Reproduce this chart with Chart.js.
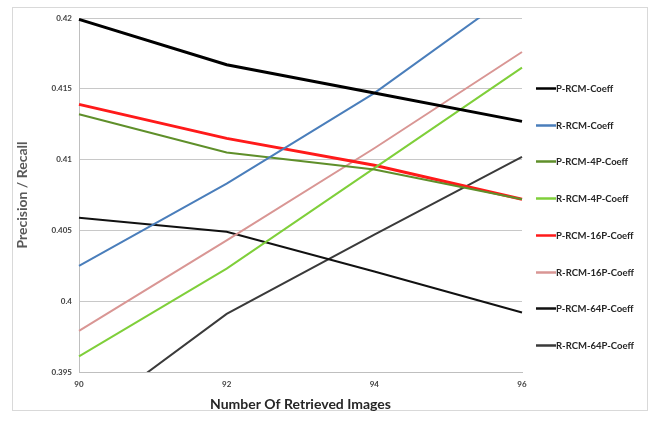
<!DOCTYPE html>
<html>
<head>
<meta charset="utf-8">
<script src="https://cdn.jsdelivr.net/npm/chart.js@4/dist/chart.umd.min.js"></script>
<style>
  html, body { margin: 0; padding: 0; background: #fff; }
  #wrap { width: 654px; height: 421px; position: relative; }
</style>
</head>
<body>
<div id="wrap"><canvas id="c" width="654" height="421"></canvas></div>
<script>
// Retrieved-image counts along the x axis
const retrieved = ['90', '92', '94', '96'];

// Precision / recall for each RCM variant
const pRcmCoeff   = [0.4199, 0.4167, 0.4147, 0.4127];
const rRcmCoeff   = [0.4025, 0.4083, 0.4147, 0.4222];
const pRcm4P      = [0.4132, 0.4105, 0.4093, 0.4072];
const rRcm4P      = [0.3961, 0.4023, 0.4094, 0.4165];
const pRcm16P     = [0.4139, 0.4115, 0.4096, 0.4072];
const rRcm16P     = [0.3979, 0.4043, 0.4108, 0.4176];
const pRcm64P     = [0.4059, 0.4049, 0.4021, 0.3992];
const rRcm64P     = [0.3914, 0.3991, 0.4047, 0.4102];

const seriesNames = ['P-RCM-Coeff', 'R-RCM-Coeff', 'P-RCM-4P-Coeff', 'R-RCM-4P-Coeff',
                     'P-RCM-16P-Coeff', 'R-RCM-16P-Coeff', 'P-RCM-64P-Coeff', 'R-RCM-64P-Coeff'];
const seriesValues = [pRcmCoeff, rRcmCoeff, pRcm4P, rRcm4P, pRcm16P, rRcm16P, pRcm64P, rRcm64P];
const seriesColors = ['#000000', '#4a7ebb', '#5f8f2a', '#7fcf3a', '#ff1a1a', '#d99694', '#111111', '#3a3a3a'];
const seriesWidths = [3, 2, 2, 2, 3, 2, 2, 2];

const FONT = 'Lato, "Open Sans", "Liberation Sans", sans-serif';

// Light frame around the whole chart
const framePlugin = {
  id: 'frame',
  beforeDraw(chart) {
    const ctx = chart.ctx;
    ctx.save();
    ctx.fillStyle = '#ffffff';
    ctx.fillRect(0, 0, chart.width, chart.height);
    ctx.strokeStyle = '#d9d9d9';
    ctx.lineWidth = 1;
    ctx.strokeRect(12.5, 7.5, 635, 403);
    ctx.restore();
  }
};

// Series key on the right, one row per dataset
const keyPlugin = {
  id: 'seriesKey',
  afterDraw(chart) {
    const ctx = chart.ctx;
    const left = chart.chartArea.right + 14;
    const top = 88, step = 36.7;
    ctx.save();
    ctx.font = 'bold 9.5px ' + FONT;
    ctx.textBaseline = 'middle';
    chart.data.datasets.forEach((ds, i) => {
      const y = Math.round(top + i * step) + 0.5;
      ctx.strokeStyle = ds.borderColor;
      ctx.lineWidth = 2.5;
      ctx.beginPath();
      ctx.moveTo(left, y);
      ctx.lineTo(left + 20, y);
      ctx.stroke();
      ctx.fillStyle = '#262626';
      ctx.fillText(ds.label, left + 20, y);
    });
    ctx.restore();
  }
};

new Chart(document.getElementById('c'), {
  type: 'line',
  data: {
    labels: retrieved,
    datasets: seriesNames.map((name, i) => ({
      label: name,
      data: seriesValues[i],
      borderColor: seriesColors[i],
      backgroundColor: seriesColors[i],
      borderWidth: seriesWidths[i],
      pointRadius: 0,
      tension: 0,
      fill: false
    }))
  },
  options: {
    responsive: false,
    animation: false,
    layout: { padding: { left: 14, right: 132, top: 18, bottom: 8 } },
    plugins: {
      legend: { display: false },
      tooltip: { enabled: false }
    },
    scales: {
      x: {
        type: 'category',
        offset: false,
        grid: { display: false, drawTicks: false },
        border: { display: true, color: '#bfbfbf', width: 1 },
        ticks: {
          color: '#404040',
          font: { family: FONT, size: 8, weight: 'bold' },
          padding: 8,
          maxRotation: 0
        },
        title: {
          display: true,
          text: 'Number Of Retrieved Images',
          color: '#262626',
          font: { family: FONT, size: 14, weight: 'bold' },
          padding: { top: 3, bottom: 0 }
        },
        afterFit(scale) { scale.height = 41; }
      },
      y: {
        min: 0.395,
        max: 0.42,
        grid: { color: '#c8c8c8', lineWidth: 1, drawTicks: false },
        border: { display: true, color: '#bfbfbf', width: 1 },
        ticks: {
          stepSize: 0.005,
          color: '#404040',
          font: { family: FONT, size: 8, weight: 'bold' },
          padding: 7,
          callback: v => String(parseFloat(v.toFixed(3)))
        },
        title: {
          display: true,
          text: 'Precision / Recall',
          color: '#595959',
          font: { family: FONT, size: 14, weight: 'bold' },
          padding: { top: 0, bottom: 6 }
        },
        afterFit(scale) { scale.width = 65; }
      }
    }
  },
  plugins: [framePlugin, keyPlugin]
});
</script>
</body>
</html>
